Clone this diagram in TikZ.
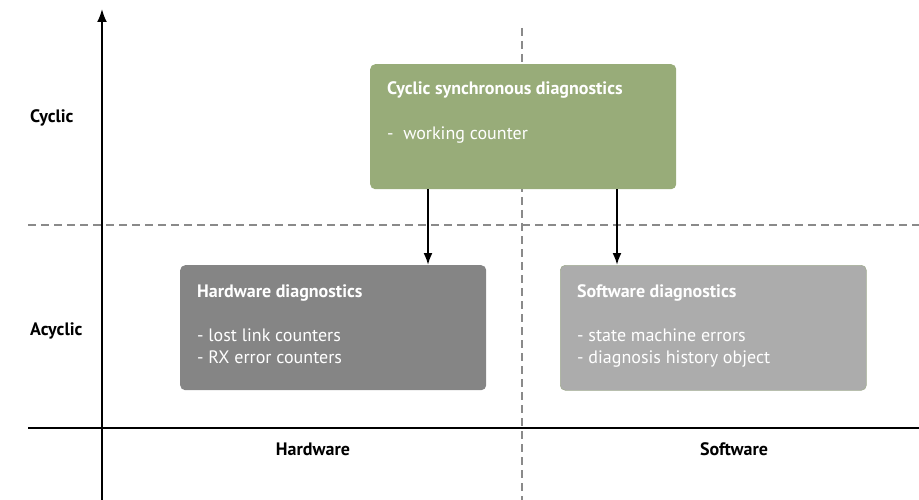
\documentclass[tikz,border=0pt]{standalone}
\usepackage{fontspec}
\setmainfont{PT Sans}
\usetikzlibrary{arrows.meta}
\definecolor{cycgreen}{HTML}{98AC79}
\definecolor{hwgray}{HTML}{858585}
\definecolor{swgray}{HTML}{ACACAC}
\definecolor{dashgray}{HTML}{8A8A8A}
\begin{document}
\begin{tikzpicture}[x=1pt,y=-1pt,
   box/.style={rounded corners=5pt,minimum width=306pt,minimum height=125pt,inner sep=0pt,anchor=north west},
   head/.style={anchor=base west,inner sep=0pt,text=white,font=\fontsize{18}{21.5}\selectfont\bfseries},
   items/.style={anchor=base west,inner sep=0pt,text=white,align=left,font=\fontsize{18}{21.5}\selectfont},
   label/.style={inner sep=0pt,font=\fontsize{18}{21}\selectfont\bfseries},
   guide/.style={dashgray,line width=1.6pt,dash pattern=on 8pt off 5pt},
   axis/.style={line width=2pt}]
   \useasboundingbox (0,0) rectangle (919,500);
   \draw[guide] (28,225) -- (919,225);
   \draw[guide] (522,28) -- (522,500);
   \draw[axis] (28,428) -- (919,428);
   \draw[axis,-{Latex[length=13pt,width=10pt]}] (102,500) -- (102,9);
   \node[box,fill=cycgreen] (cyc) at (370,64) {};
   \node[box,fill=hwgray] (hw) at (180,265) {};
   \node[box,fill=swgray,draw=cycgreen!50!swgray,line width=0.6pt] (sw) at (560,265) {};
   \node[head] (cychead) at ([shift={(17pt,-31pt)}]cyc.north west) {Cyclic synchronous diagnostics};
   \node[items] (cycitems) at ([shift={(17pt,-76pt)}]cyc.north west) {-\ \ working counter};
   \node[head] (hwhead) at ([shift={(17pt,-32pt)}]hw.north west) {Hardware diagnostics};
   \node[items] (hwitems) at ([shift={(17pt,-98pt)}]hw.north west) {- lost link counters\\- RX error counters};
   \node[head] (swhead) at ([shift={(17pt,-32pt)}]sw.north west) {Software diagnostics};
   \node[items] (switems) at ([shift={(17pt,-98pt)}]sw.north west) {- state machine errors\\- diagnosis history object};
   \draw[axis,-{Latex[length=12pt,width=9pt]}] ([xshift=58pt]cyc.south west) -- ([xshift=58pt]cyc.south west |- hw.north);
   \draw[axis,-{Latex[length=12pt,width=9pt]}] ([xshift=57pt]sw.north west |- cyc.south) -- ([xshift=57pt]sw.north west);
   \node[label,anchor=base west] (cyclic) at (30,123) {Cyclic};
   \node[label,anchor=base west] (acyclic) at (30,335) {Acyclic};
   \node[label,anchor=base] (hwaxis) at (313,455) {Hardware};
   \node[label,anchor=base] (swaxis) at (734,455) {Software};
\end{tikzpicture}
\end{document}
